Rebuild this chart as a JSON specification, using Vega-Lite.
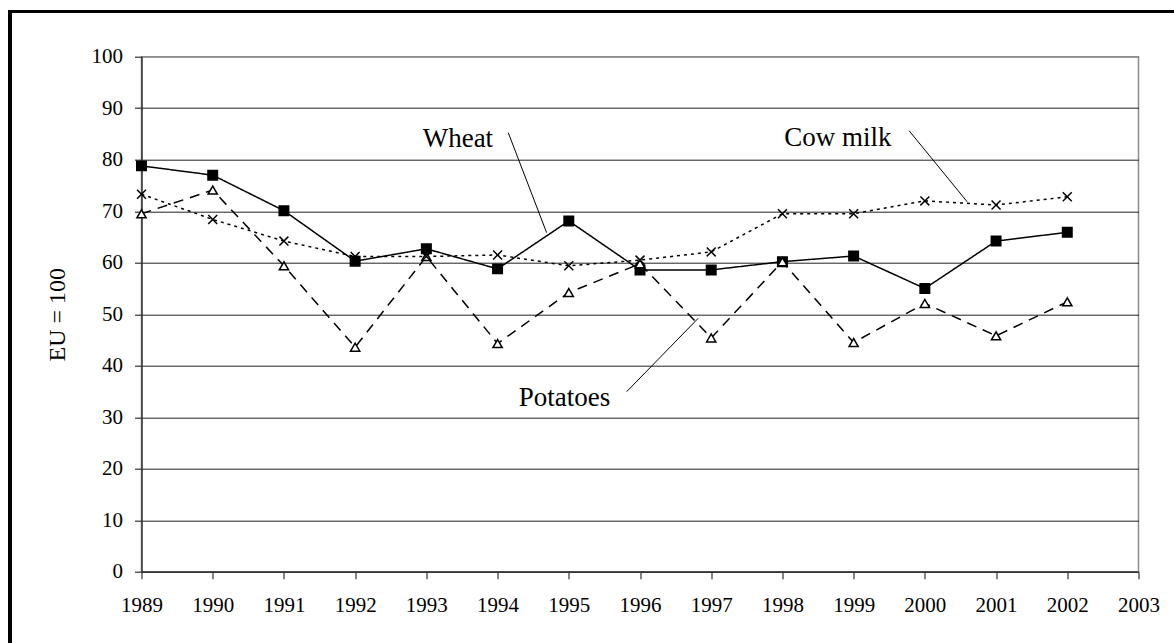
{
  "$schema": "https://vega.github.io/schema/vega-lite/v6.json",
  "width": 997,
  "height": 515,
  "autosize": {"type": "none"},
  "padding": {"left": 141.5, "top": 56.7, "right": 35.3, "bottom": 71.3},
  "background": "white",
  "config": {
    "font": "Liberation Serif",
    "view": {"stroke": "#8c8c8c", "strokeWidth": 1.5},
    "axis": {"labelColor": "black", "labelFont": "Liberation Serif", "labelFontSize": 21, "titleFont": "Liberation Serif", "titleFontSize": 24, "titleFontWeight": "normal", "titleColor": "black"}
  },
  "data": {
    "values": [
      {"year": 1989, "series": "Wheat", "value": 78.8},
      {"year": 1990, "series": "Wheat", "value": 77.0},
      {"year": 1991, "series": "Wheat", "value": 70.1},
      {"year": 1992, "series": "Wheat", "value": 60.3},
      {"year": 1993, "series": "Wheat", "value": 62.7},
      {"year": 1994, "series": "Wheat", "value": 58.8},
      {"year": 1995, "series": "Wheat", "value": 68.1},
      {"year": 1996, "series": "Wheat", "value": 58.6},
      {"year": 1997, "series": "Wheat", "value": 58.6},
      {"year": 1998, "series": "Wheat", "value": 60.2},
      {"year": 1999, "series": "Wheat", "value": 61.3},
      {"year": 2000, "series": "Wheat", "value": 55.0},
      {"year": 2001, "series": "Wheat", "value": 64.2},
      {"year": 2002, "series": "Wheat", "value": 65.9},
      {"year": 1989, "series": "Potatoes", "value": 69.5},
      {"year": 1990, "series": "Potatoes", "value": 74.1},
      {"year": 1991, "series": "Potatoes", "value": 59.4},
      {"year": 1992, "series": "Potatoes", "value": 43.6},
      {"year": 1993, "series": "Potatoes", "value": 61.2},
      {"year": 1994, "series": "Potatoes", "value": 44.3},
      {"year": 1995, "series": "Potatoes", "value": 54.2},
      {"year": 1996, "series": "Potatoes", "value": 59.8},
      {"year": 1997, "series": "Potatoes", "value": 45.4},
      {"year": 1998, "series": "Potatoes", "value": 60.2},
      {"year": 1999, "series": "Potatoes", "value": 44.5},
      {"year": 2000, "series": "Potatoes", "value": 52.1},
      {"year": 2001, "series": "Potatoes", "value": 45.8},
      {"year": 2002, "series": "Potatoes", "value": 52.4},
      {"year": 1989, "series": "Cow milk", "value": 73.3},
      {"year": 1990, "series": "Cow milk", "value": 68.4},
      {"year": 1991, "series": "Cow milk", "value": 64.2},
      {"year": 1992, "series": "Cow milk", "value": 61.2},
      {"year": 1993, "series": "Cow milk", "value": 61.2},
      {"year": 1994, "series": "Cow milk", "value": 61.5},
      {"year": 1995, "series": "Cow milk", "value": 59.4},
      {"year": 1996, "series": "Cow milk", "value": 60.5},
      {"year": 1997, "series": "Cow milk", "value": 62.1},
      {"year": 1998, "series": "Cow milk", "value": 69.5},
      {"year": 1999, "series": "Cow milk", "value": 69.5},
      {"year": 2000, "series": "Cow milk", "value": 72.0},
      {"year": 2001, "series": "Cow milk", "value": 71.2},
      {"year": 2002, "series": "Cow milk", "value": 72.8}
    ]
  },
  "layer": [
    {
      "mark": {"type": "line", "color": "black", "strokeWidth": 1.5},
      "encoding": {
        "x": {
          "field": "year", "type": "quantitative",
          "scale": {"domain": [1989, 2003], "nice": false, "zero": false},
          "axis": {
            "title": null,
            "values": [1989, 1990, 1991, 1992, 1993, 1994, 1995, 1996, 1997, 1998, 1999, 2000, 2001, 2002, 2003],
            "format": "d", "grid": false,
            "labelFont": "Liberation Serif", "labelFontSize": 21, "labelColor": "black",
            "tickSize": 7, "labelPadding": 16,
            "domainColor": "#333", "domainWidth": 1.5, "tickColor": "#333", "tickWidth": 1.2,
            "labelFlush": false, "labelOverlap": false,
            "encoding": {
              "labels": {"update": {"font": {"value": "Liberation Serif"}, "fontSize": {"value": 21}}}
            }
          }
        },
        "y": {
          "field": "value", "type": "quantitative",
          "scale": {"domain": [0, 100], "nice": false},
          "axis": {
            "title": "EU = 100",
            "values": [0, 10, 20, 30, 40, 50, 60, 70, 80, 90, 100],
            "labelFont": "Liberation Serif", "labelFontSize": 21, "labelColor": "black",
            "tickSize": 7, "labelPadding": 12,
            "titleFont": "Liberation Serif", "titleFontSize": 24, "titleFontWeight": "normal", "titleColor": "black",
            "titleX": -84, "titleY": 257.5, "titleAngle": -90, "titleAlign": "center", "titleBaseline": "middle",
            "grid": true, "gridWidth": 1,
            "gridColor": {"condition": {"test": "datum.value === 100", "value": "#8c8c8c"}, "value": "#222"},
            "domainColor": "#333", "domainWidth": 1.5, "tickColor": "#333", "tickWidth": 1.2,
            "labelFlush": false, "labelOverlap": false,
            "encoding": {
              "labels": {"update": {"font": {"value": "Liberation Serif"}, "fontSize": {"value": 21}}},
              "title": {"update": {"font": {"value": "Liberation Serif"}, "fontSize": {"value": 24}, "fontWeight": {"value": "normal"}}}
            }
          }
        },
        "detail": {"field": "series"},
        "strokeDash": {
          "field": "series", "type": "nominal",
          "scale": {"domain": ["Wheat", "Potatoes", "Cow milk"], "range": [[1, 0], [10, 7], [3, 4]]},
          "legend": null
        }
      }
    },
    {
      "mark": {"type": "point", "filled": true, "stroke": "black", "strokeWidth": 1.5, "opacity": 1},
      "encoding": {
        "x": {"field": "year", "type": "quantitative"},
        "y": {"field": "value", "type": "quantitative"},
        "shape": {
          "field": "series", "type": "nominal",
          "scale": {"domain": ["Wheat", "Potatoes", "Cow milk"], "range": ["square", "triangle-up", "M-1,-1L1,1M-1,1L1,-1"]},
          "legend": null
        },
        "fill": {
          "field": "series", "type": "nominal",
          "scale": {"domain": ["Wheat", "Potatoes", "Cow milk"], "range": ["black", "white", "white"]},
          "legend": null
        },
        "size": {
          "field": "series", "type": "nominal",
          "scale": {"domain": ["Wheat", "Potatoes", "Cow milk"], "range": [90, 80, 100]},
          "legend": null
        }
      }
    },
    {
      "data": {
        "values": [
          {"year": 1994.150, "value": 85.24, "year2": 1994.689, "value2": 65.83},
          {"year": 1999.779, "value": 85.63, "year2": 2000.594, "value2": 71.84},
          {"year": 1995.812, "value": 34.95, "year2": 1996.817, "value2": 49.20}
        ]
      },
      "mark": {"type": "rule", "color": "black", "strokeWidth": 1},
      "encoding": {
        "x": {"field": "year", "type": "quantitative"},
        "x2": {"field": "year2"},
        "y": {"field": "value", "type": "quantitative"},
        "y2": {"field": "value2"}
      }
    },
    {
      "data": {
        "values": [
          {"label": "Wheat", "year": 1993.443, "value": 82.4},
          {"label": "Cow milk", "year": 1998.778, "value": 82.66},
          {"label": "Potatoes", "year": 1994.94, "value": 32.17}
        ]
      },
      "mark": {"type": "text", "fontSize": 27, "align": "center", "baseline": "alphabetic", "color": "black", "font": "Liberation Serif"},
      "encoding": {
        "x": {"field": "year", "type": "quantitative"},
        "y": {"field": "value", "type": "quantitative"},
        "text": {"field": "label"}
      }
    },
    {
      "mark": {"type": "rule", "color": "black", "strokeWidth": 2.5},
      "encoding": {
        "x": {"datum": 1987.13},
        "x2": {"datum": 2006},
        "y": {"datum": 108.74}
      }
    },
    {
      "mark": {"type": "rule", "color": "black", "strokeWidth": 2.5},
      "encoding": {
        "x": {"datum": 1987.154},
        "y": {"datum": 108.74},
        "y2": {"datum": -15}
      }
    }
  ]
}
